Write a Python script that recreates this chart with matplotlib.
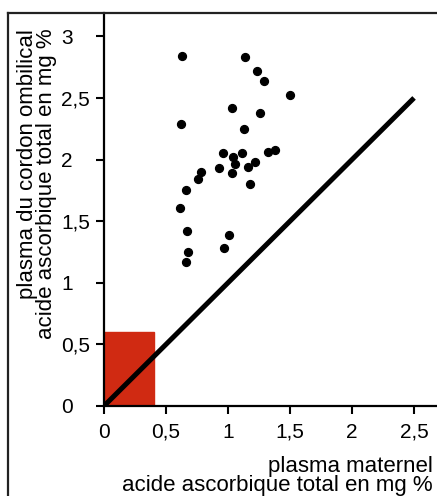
import numpy as np
import matplotlib.pyplot as plt
from matplotlib.patches import Rectangle

plt.rcParams['font.family'] = ['Liberation Sans', 'DejaVu Sans']

# maternal plasma (x) vs cord plasma (y), total ascorbic acid in mg %
maternel = [0.63, 1.14, 1.23, 1.29, 1.50, 1.03, 1.26, 0.62, 1.13, 1.32,
            1.38, 0.96, 1.04, 1.11, 1.06, 0.93, 1.03, 1.16, 1.22, 1.18,
            0.78, 0.76, 0.66, 0.61, 0.67, 1.01, 0.97, 0.68, 0.66]
cordon = [2.84, 2.83, 2.72, 2.64, 2.52, 2.42, 2.38, 2.29, 2.25, 2.06,
          2.08, 2.05, 2.02, 2.05, 1.96, 1.93, 1.89, 1.94, 1.98, 1.80,
          1.90, 1.84, 1.75, 1.61, 1.42, 1.39, 1.28, 1.25, 1.17]
egalite = [0, 2.5]
zone_x, zone_y = 0.4, 0.6

xticks = [0, 0.5, 1, 1.5, 2, 2.5]
yticks = [0, 0.5, 1, 1.5, 2, 2.5, 3]
xtick_labels = ['0', '0,5', '1', '1,5', '2', '2,5']
ytick_labels = ['0', '0,5', '1', '1,5', '2', '2,5', '3']

fig = plt.figure(figsize=(4.37, 4.96), dpi=100)
ax = fig.add_axes([0.238, 0.1815, 0.762, 0.7925])

ax.add_patch(Rectangle((0, 0), zone_x, zone_y, color='#d02a12', zorder=1))
ax.plot(egalite, egalite, color='black', lw=3.6, solid_capstyle='butt', zorder=2)
ax.scatter(maternel, cordon, s=32, color='black', zorder=3)

ax.set_xlim(0, 2.685)
ax.set_ylim(0, 3.19)
ax.set_xticks(xticks)
ax.set_yticks(yticks)
ax.set_xticklabels(xtick_labels)
ax.set_yticklabels(ytick_labels)
ax.tick_params(labelsize=15, length=6, width=1.5)
ax.tick_params(axis='x', pad=6)
ax.tick_params(axis='y', pad=25)
for lab in ax.get_yticklabels():
    lab.set_horizontalalignment('left')
for s in ['top', 'right']:
    ax.spines[s].set_visible(False)
for s in ['left', 'bottom']:
    ax.spines[s].set_linewidth(1.6)

fig.text(0.99, 0.0, 'plasma maternel\nacide ascorbique total en mg %',
         ha='right', va='bottom', multialignment='right', fontsize=16, linespacing=0.9)
fig.text(0.039, 0.942, 'plasma du cordon ombilical\nacide ascorbique total en mg %',
         ha='left', va='top', rotation=90, multialignment='right', fontsize=16, linespacing=0.9)

# outer frame
fig.add_artist(plt.Line2D([0.018, 0.018], [0, 0.974], color='#222222', lw=1.6))
fig.add_artist(plt.Line2D([0.018, 1], [0.974, 0.974], color='#222222', lw=1.6))

fig.savefig('out.png', dpi=100)
